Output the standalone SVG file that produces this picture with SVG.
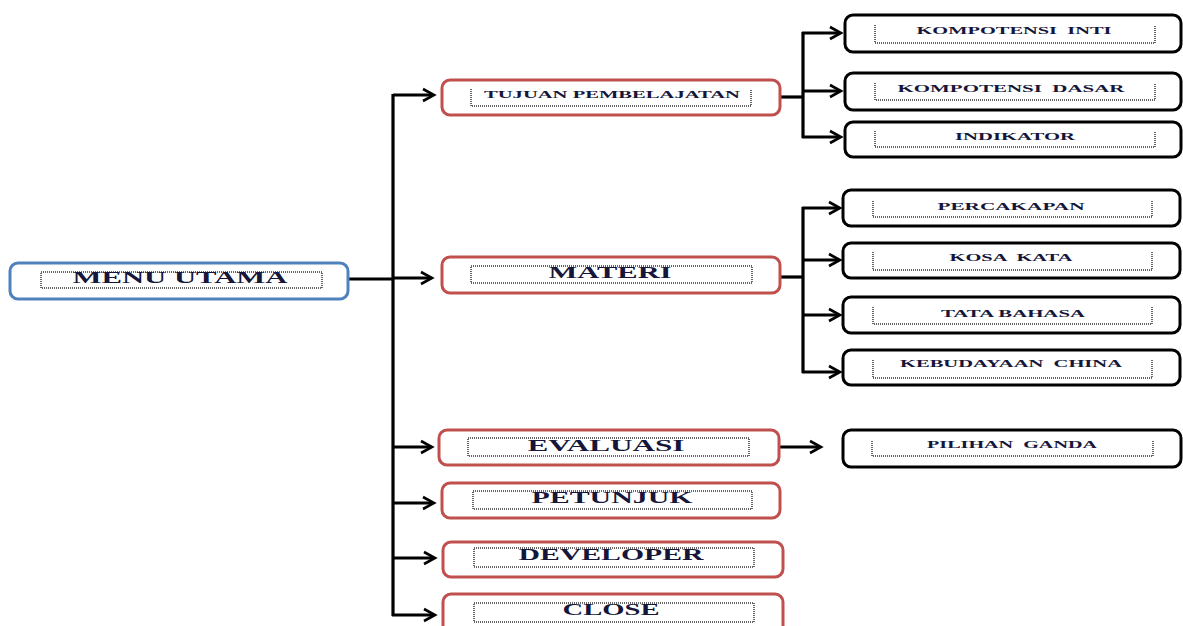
<svg xmlns="http://www.w3.org/2000/svg" width="1183" height="626" viewBox="0 0 1183 626">
<defs>
<marker id="ah" markerUnits="userSpaceOnUse" markerWidth="14" markerHeight="14" refX="11" refY="6" orient="auto" overflow="visible">
<path d="M1,0 L12,6 L1,12" fill="none" stroke="#000" stroke-width="2.6" stroke-linejoin="miter"/>
</marker>
</defs>
<style>
.blue{fill:#fff;stroke:#4F81BD;stroke-width:3}
.red{fill:#fff;stroke:#C0504D;stroke-width:3}
.blk{fill:#fff;stroke:#000;stroke-width:3}
.dot{fill:none;stroke:#333;stroke-width:1.5;stroke-dasharray:1 1}
.ln{fill:none;stroke:#000;stroke-width:3.2}
.ar{fill:none;stroke:#000;stroke-width:2.8;marker-end:url(#ah)}
.t{font-family:"Liberation Serif","Times New Roman",serif;font-weight:bold;fill:#15163a;text-anchor:middle}
.big{font-size:17px}
.sm{font-size:10.5px}
</style>
<rect width="1183" height="626" fill="#fff"/>
<g id="connectors">
<path class="ln" d="M348,279 H393"/>
<path class="ln" d="M393,94 V616"/>
<path class="ar" d="M393,95 H433"/>
<path class="ar" d="M393,278 H431"/>
<path class="ar" d="M393,447 H431"/>
<path class="ar" d="M393,503 H433"/>
<path class="ar" d="M393,558 H434"/>
<path class="ar" d="M392,615 H434"/>
<path class="ln" d="M780,97 H803"/>
<path class="ln" d="M803,32 V138"/>
<path class="ar" d="M802,33 H840"/>
<path class="ar" d="M803,91 H840"/>
<path class="ar" d="M802,137 H840"/>
<path class="ln" d="M780,277 H803"/>
<path class="ln" d="M803,207 V373"/>
<path class="ar" d="M802,208 H839"/>
<path class="ar" d="M803,260 H839"/>
<path class="ar" d="M803,315 H839"/>
<path class="ar" d="M802,372 H839"/>
<path class="ar" d="M780,447 H820"/>
</g>
<g id="menu-utama">
<rect class="blue" x="10" y="263" width="338" height="36" rx="8"/>
<rect class="dot" x="41" y="272" width="281" height="16"/>
<text class="t big" x="180" y="283" textLength="215" lengthAdjust="spacingAndGlyphs">MENU UTAMA</text>
</g>
<g id="tujuan">
<rect class="red" x="442" y="80" width="338" height="35" rx="8"/>
<path class="dot" d="M471,89 V106 H751 V89"/>
<text class="t sm" x="612" y="98" textLength="256" lengthAdjust="spacingAndGlyphs">TUJUAN PEMBELAJATAN</text>
</g>
<g id="materi">
<rect class="red" x="442" y="257" width="338" height="36" rx="8"/>
<rect class="dot" x="471" y="266" width="281" height="17"/>
<text class="t big" x="610" y="278" textLength="123" lengthAdjust="spacingAndGlyphs">MATERI</text>
</g>
<g id="evaluasi">
<rect class="red" x="439" y="430" width="340" height="35" rx="8"/>
<rect class="dot" x="468" y="438" width="281" height="18"/>
<text class="t big" x="606" y="451" textLength="157" lengthAdjust="spacingAndGlyphs">EVALUASI</text>
</g>
<g id="petunjuk">
<rect class="red" x="442" y="483" width="338" height="35" rx="8"/>
<rect class="dot" x="473" y="491" width="279" height="18"/>
<text class="t big" x="612" y="503" textLength="161" lengthAdjust="spacingAndGlyphs">PETUNJUK</text>
</g>
<g id="developer">
<rect class="red" x="443" y="542" width="340" height="35" rx="8"/>
<rect class="dot" x="474" y="548" width="280" height="19"/>
<text class="t big" x="611" y="560" textLength="185" lengthAdjust="spacingAndGlyphs">DEVELOPER</text>
</g>
<g id="close">
<rect class="red" x="443" y="594" width="340" height="40" rx="8"/>
<rect class="dot" x="474" y="603" width="280" height="19"/>
<text class="t big" x="611" y="615" textLength="97" lengthAdjust="spacingAndGlyphs">CLOSE</text>
</g>
<g id="kompotensi-inti">
<rect class="blk" x="845" y="15" width="336" height="37" rx="8"/>
<path class="dot" d="M875,25 V43 H1155 V25"/>
<text class="t sm" x="1014" y="34" textLength="195" lengthAdjust="spacingAndGlyphs" xml:space="preserve">KOMPOTENSI  INTI</text>
</g>
<g id="kompotensi-dasar">
<rect class="blk" x="845" y="73" width="336" height="37" rx="8"/>
<path class="dot" d="M875,83 V100 H1155 V83"/>
<text class="t sm" x="1011" y="92" textLength="227" lengthAdjust="spacingAndGlyphs" xml:space="preserve">KOMPOTENSI  DASAR</text>
</g>
<g id="indikator">
<rect class="blk" x="845" y="122" width="336" height="35" rx="8"/>
<path class="dot" d="M875,131 V147 H1155 V131"/>
<text class="t sm" x="1015" y="140" textLength="120" lengthAdjust="spacingAndGlyphs">INDIKATOR</text>
</g>
<g id="percakapan">
<rect class="blk" x="843" y="190" width="337" height="36" rx="8"/>
<path class="dot" d="M873,201 V217 H1152 V201"/>
<text class="t sm" x="1011" y="210" textLength="147" lengthAdjust="spacingAndGlyphs">PERCAKAPAN</text>
</g>
<g id="kosa-kata">
<rect class="blk" x="843" y="243" width="337" height="35" rx="8"/>
<path class="dot" d="M873,252 V270 H1152 V252"/>
<text class="t sm" x="1011" y="261" textLength="123" lengthAdjust="spacingAndGlyphs" xml:space="preserve">KOSA  KATA</text>
</g>
<g id="tata-bahasa">
<rect class="blk" x="843" y="297" width="337" height="36" rx="8"/>
<path class="dot" d="M873,307 V324 H1152 V307"/>
<text class="t sm" x="1013" y="317" textLength="144" lengthAdjust="spacingAndGlyphs">TATA BAHASA</text>
</g>
<g id="kebudayaan-china">
<rect class="blk" x="843" y="350" width="337" height="35" rx="8"/>
<path class="dot" d="M873,360 V378 H1152 V360"/>
<text class="t sm" x="1011" y="367" textLength="222" lengthAdjust="spacingAndGlyphs" xml:space="preserve">KEBUDAYAAN  CHINA</text>
</g>
<g id="pilihan-ganda">
<rect class="blk" x="843" y="430" width="338" height="37" rx="8"/>
<path class="dot" d="M872,441 V456 H1153 V441"/>
<text class="t sm" x="1012" y="448" textLength="170" lengthAdjust="spacingAndGlyphs" xml:space="preserve">PILIHAN  GANDA</text>
</g>
</svg>
